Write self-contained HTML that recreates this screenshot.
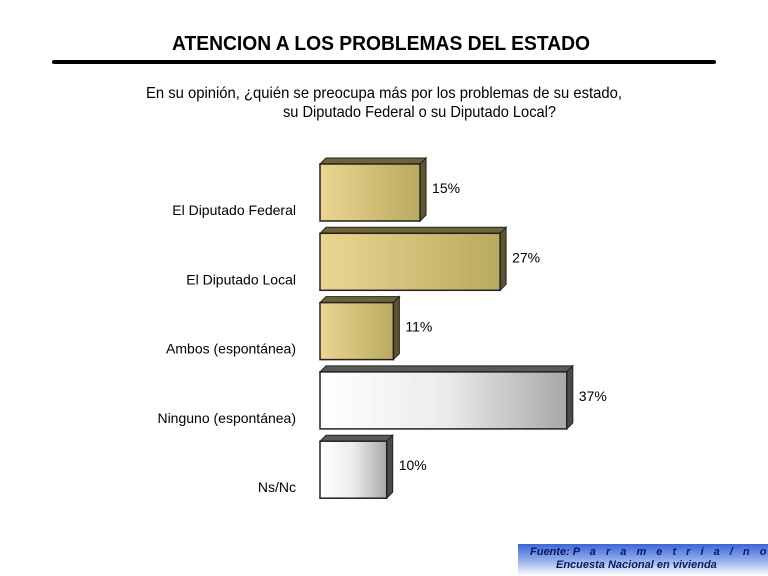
<!DOCTYPE html>
<html><head><meta charset="utf-8"><style>
html,body{margin:0;padding:0;background:#fff;}
svg{display:block;font-family:"Liberation Sans",Arial,sans-serif;}
</style></head><body>
<svg id="chart" width="768" height="576" viewBox="0 0 768 576" xmlns="http://www.w3.org/2000/svg">
<defs>
<linearGradient id="gold" x1="0" x2="1" y1="0" y2="0"><stop offset="0" stop-color="#ecd692"/><stop offset="1" stop-color="#b8aa60"/></linearGradient>
<linearGradient id="grey" x1="0" x2="1" y1="0" y2="0"><stop offset="0" stop-color="#ffffff"/><stop offset="0.5" stop-color="#ececec"/><stop offset="1" stop-color="#a8a8a8"/></linearGradient>
<linearGradient id="blue" x1="0" x2="0" y1="0" y2="1"><stop offset="0" stop-color="#3a66d8"/><stop offset="0.55" stop-color="#9cb4ec"/><stop offset="1" stop-color="#ffffff"/></linearGradient>
</defs>
<text x="381" y="50" text-anchor="middle" font-size="20" font-weight="bold" textLength="418" lengthAdjust="spacingAndGlyphs">ATENCION A LOS PROBLEMAS DEL ESTADO</text>
<line x1="54" y1="62" x2="714" y2="62" stroke="#000" stroke-width="4" stroke-linecap="round"/>
<text x="146" y="98" font-size="16" textLength="476" lengthAdjust="spacingAndGlyphs">En su opinión, ¿quién se preocupa más por los problemas de su estado,</text>
<text x="283" y="117" font-size="16" textLength="273" lengthAdjust="spacingAndGlyphs">su Diputado Federal o su Diputado Local?</text>
<g id="bars"></g>
<rect x="518" y="544" width="250" height="32" fill="url(#blue)"/>
<text x="530" y="555" font-size="11" font-weight="bold" font-style="italic" fill="#0a1a60">Fuente: <tspan letter-spacing="3.5">P a r a m e t r í a / n o v  2 0 0 4</tspan></text>
<text x="556" y="568" font-size="11" font-weight="bold" font-style="italic" fill="#0a1a60">Encuesta Nacional en vivienda</text>
</svg>
<script>
const categories = ["El Diputado Federal","El Diputado Local","Ambos (espontánea)","Ninguno (espontánea)","Ns/Nc"];
const values = [15,27,11,37,10];
const valueLabels = ["15%","27%","11%","37%","10%"];
const styles = ["gold","gold","gold","grey","grey"];
const NS="http://www.w3.org/2000/svg";
const x0=320, pxPer=6.67, top0=164, pitch=69.3, bh=57, d=6;
const xs=v=>x0+v*pxPer;
const ys=i=>top0+i*pitch;
const g=document.getElementById('bars');
function mk(tag,attrs){const e=document.createElementNS(NS,tag);for(const k in attrs)e.setAttribute(k,attrs[k]);return e;}
categories.forEach((c,i)=>{
  const y=ys(i), x1=xs(values[i]);
  const dark = styles[i]==="gold" ? "#5e5430" : "#4a4a4a";
  const topc = styles[i]==="gold" ? "#6e6438" : "#5a5a5a";
  const tp=mk('polygon',{points:`${x0},${y} ${x0+d},${y-d} ${x1+d},${y-d} ${x1},${y}`,fill:topc,stroke:"#222","stroke-width":1});
  
  
  g.appendChild(tp);
  const sd=mk('polygon',{points:`${x1},${y} ${x1+d},${y-d} ${x1+d},${y+bh-d} ${x1},${y+bh}`,fill:dark,stroke:"#222","stroke-width":1});
  
  
  g.appendChild(sd);
  const r=mk('rect',{x:x0,y:y,width:x1-x0,height:bh,fill:`url(#${styles[i]})`,stroke:"#222","stroke-width":1.5});
  
  
  g.appendChild(r);
  const vl=mk('text',{x:x1+d+6,y:y+29,"font-size":14});
  vl.textContent=valueLabels[i];
  
  
  g.appendChild(vl);
  const cl=mk('text',{x:296,y:y+51,"font-size":14,"text-anchor":"end"});
  cl.textContent=c;
  
  
  g.appendChild(cl);
});
</script>
</body></html>
